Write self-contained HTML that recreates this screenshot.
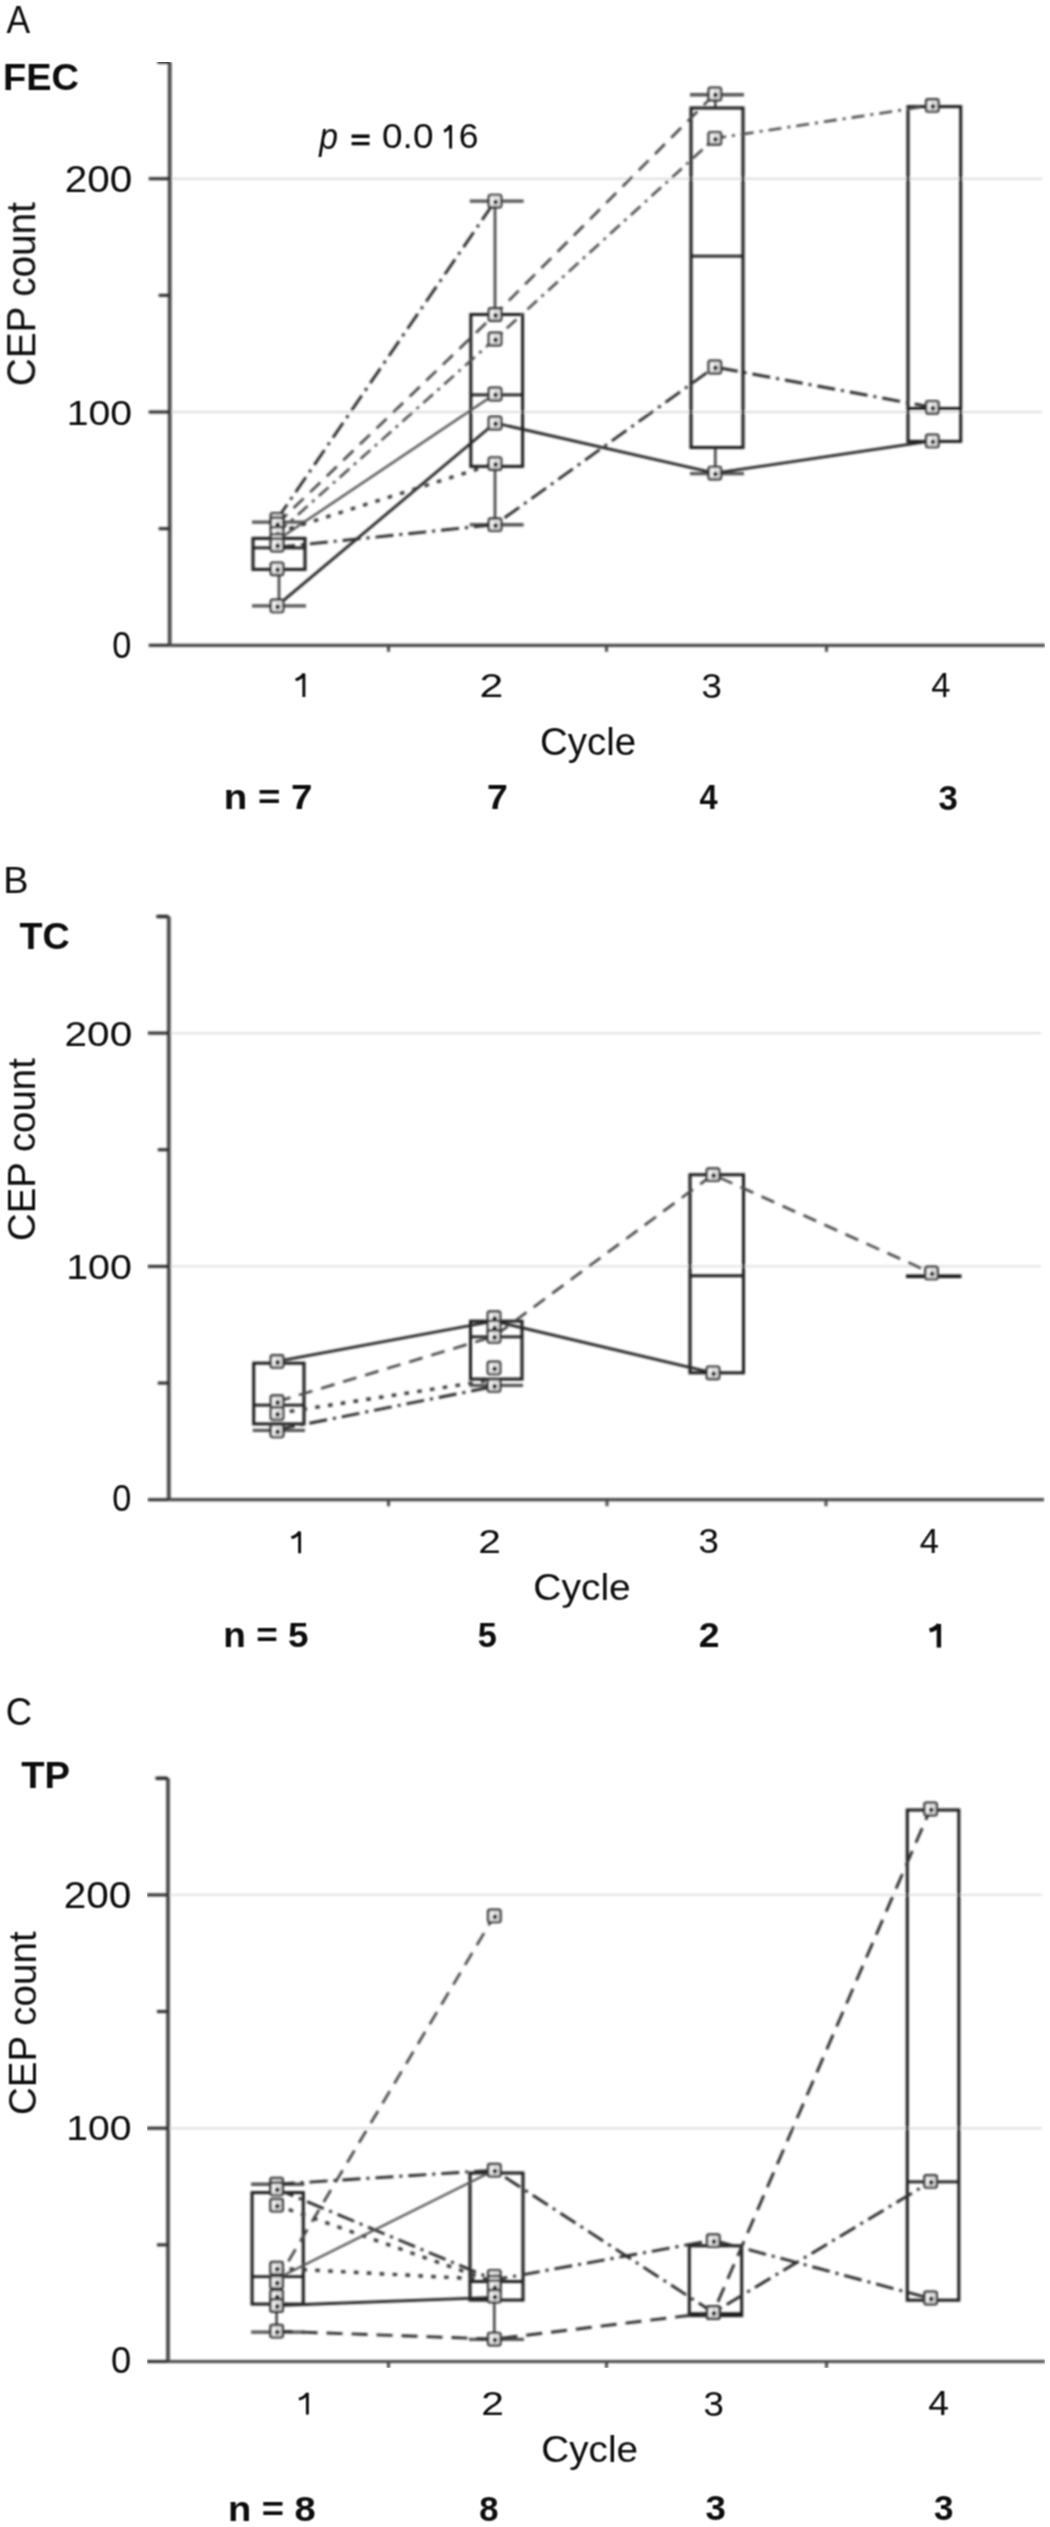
<!DOCTYPE html>
<html><head><meta charset="utf-8"><style>
html,body{margin:0;padding:0;background:#fff;overflow:hidden;}
svg{display:block;}
text{font-family:"Liberation Sans",sans-serif;}
.t{}
</style></head><body>
<svg width="1050" height="2527" viewBox="0 0 1050 2527">
<defs><filter id="bl" x="0" y="0" width="1" height="1"><feGaussianBlur stdDeviation="0.8"/></filter><filter id="bt" x="0" y="0" width="1" height="1"><feConvolveMatrix order="3" kernelMatrix="1 2 1 2 4 2 1 2 1" divisor="16" edgeMode="none"/></filter></defs>
<rect width="1050" height="2527" fill="#fff"/>
<g filter="url(#bl)">
<line x1="169.7" y1="411.99999999999994" x2="1042" y2="411.99999999999994" stroke="#dedede" stroke-width="1.9" stroke-linecap="butt"/>
<line x1="169.7" y1="178.69999999999993" x2="1042" y2="178.69999999999993" stroke="#dedede" stroke-width="1.9" stroke-linecap="butt"/>
<path d="M169.7,62.049999999999955 V645.3" fill="none" stroke="#4a4a4a" stroke-width="3.8"/>
<path d="M158.7,62.049999999999955 H168.2" fill="none" stroke="#2a2a2a" stroke-width="3.6" stroke-linecap="round"/>
<line x1="148.7" y1="645.3" x2="169.7" y2="645.3" stroke="#2a2a2a" stroke-width="3" stroke-linecap="butt"/>
<line x1="148.7" y1="411.99999999999994" x2="169.7" y2="411.99999999999994" stroke="#2a2a2a" stroke-width="3" stroke-linecap="butt"/>
<line x1="148.7" y1="178.69999999999993" x2="169.7" y2="178.69999999999993" stroke="#2a2a2a" stroke-width="3" stroke-linecap="butt"/>
<line x1="158.7" y1="528.65" x2="169.7" y2="528.65" stroke="#2a2a2a" stroke-width="3" stroke-linecap="butt"/>
<line x1="158.7" y1="295.3499999999999" x2="169.7" y2="295.3499999999999" stroke="#2a2a2a" stroke-width="3" stroke-linecap="butt"/>
<line x1="169.7" y1="645.3" x2="1045" y2="645.3" stroke="#4a4a4a" stroke-width="3.2" stroke-linecap="butt"/>
<line x1="388.5" y1="645.3" x2="388.5" y2="651.8" stroke="#4a4a4a" stroke-width="3" stroke-linecap="butt"/>
<line x1="606.5" y1="645.3" x2="606.5" y2="651.8" stroke="#4a4a4a" stroke-width="3" stroke-linecap="butt"/>
<line x1="826.5" y1="645.3" x2="826.5" y2="651.8" stroke="#4a4a4a" stroke-width="3" stroke-linecap="butt"/>
<line x1="279" y1="522.1175999999999" x2="279" y2="538.4485999999999" stroke="#444" stroke-width="2.6" stroke-linecap="butt"/>
<line x1="252" y1="522.1175999999999" x2="306" y2="522.1175999999999" stroke="#555" stroke-width="3.4" stroke-linecap="butt"/>
<line x1="279" y1="569.4775" x2="279" y2="605.8723" stroke="#444" stroke-width="2.6" stroke-linecap="butt"/>
<line x1="252" y1="605.8723" x2="306" y2="605.8723" stroke="#555" stroke-width="3.4" stroke-linecap="butt"/>
<rect x="253" y="538.4" width="52" height="31.0" fill="none" stroke="#1c1c1c" stroke-width="3.0"/>
<line x1="253" y1="547.7805999999999" x2="305" y2="547.7805999999999" stroke="#1c1c1c" stroke-width="2.8" stroke-linecap="butt"/>
<line x1="495" y1="201.09679999999992" x2="495" y2="314.4805999999999" stroke="#444" stroke-width="2.6" stroke-linecap="butt"/>
<line x1="469.8" y1="201.09679999999992" x2="523.6" y2="201.09679999999992" stroke="#555" stroke-width="3.4" stroke-linecap="butt"/>
<line x1="495" y1="466.35889999999995" x2="495" y2="524.6839" stroke="#444" stroke-width="2.6" stroke-linecap="butt"/>
<line x1="469.8" y1="524.6839" x2="523.6" y2="524.6839" stroke="#555" stroke-width="3.4" stroke-linecap="butt"/>
<rect x="470.8" y="314.5" width="51.80000000000001" height="151.9" fill="none" stroke="#1c1c1c" stroke-width="3.0"/>
<line x1="470.8" y1="394.9690999999999" x2="522.6" y2="394.9690999999999" stroke="#1c1c1c" stroke-width="2.8" stroke-linecap="butt"/>
<line x1="715.3" y1="94.71199999999988" x2="715.3" y2="108.01009999999985" stroke="#444" stroke-width="2.6" stroke-linecap="butt"/>
<line x1="690" y1="94.71199999999988" x2="744" y2="94.71199999999988" stroke="#555" stroke-width="3.4" stroke-linecap="butt"/>
<line x1="715.3" y1="447.4616" x2="715.3" y2="473.59119999999996" stroke="#444" stroke-width="2.6" stroke-linecap="butt"/>
<line x1="690" y1="473.59119999999996" x2="744" y2="473.59119999999996" stroke="#555" stroke-width="3.4" stroke-linecap="butt"/>
<rect x="691" y="108.0" width="52" height="339.5" fill="none" stroke="#1c1c1c" stroke-width="3.0"/>
<line x1="691" y1="256.1555999999999" x2="743" y2="256.1555999999999" stroke="#1c1c1c" stroke-width="2.8" stroke-linecap="butt"/>
<rect x="908" y="106.6" width="52.700000000000045" height="334.8" fill="none" stroke="#1c1c1c" stroke-width="3.0"/>
<line x1="908" y1="408.50049999999993" x2="960.7" y2="408.50049999999993" stroke="#1c1c1c" stroke-width="2.8" stroke-linecap="butt"/>
<polyline points="277.0,605.9 495.0,423.0 714.8,473.1 932.3,440.9" fill="none" stroke="#262626" stroke-width="2.8"/>
<polyline points="277.0,540.3 495.0,394.0" fill="none" stroke="#555" stroke-width="2.4"/>
<polyline points="277.0,519.3 495.0,201.1" fill="none" stroke="#2e2e2e" stroke-width="2.9" stroke-dasharray="18 6 3 6"/>
<polyline points="277.0,524.0 495.0,314.5 714.8,94.0" fill="none" stroke="#4a4a4a" stroke-width="2.7" stroke-dasharray="14 9"/>
<polyline points="277.0,533.3 495.0,339.0 714.8,138.3 932.3,105.4" fill="none" stroke="#4e4e4e" stroke-width="2.6" stroke-dasharray="13 6 3 6"/>
<polyline points="277.0,532.6 495.0,463.6" fill="none" stroke="#3a3a3a" stroke-width="3.4" stroke-dasharray="4.6 8.3"/>
<polyline points="277.0,547.3 495.0,524.7 714.8,367.0 932.3,407.3" fill="none" stroke="#2e2e2e" stroke-width="2.9" stroke-dasharray="18 6 3 6"/>
<rect x="270.8" y="513.1" width="12.4" height="12.4" rx="1.8" fill="#e2e2e2" stroke="#353535" stroke-width="2.4"/>
<rect x="273.2" y="515.7" width="2.6" height="6.5" fill="#fafafa"/>
<circle cx="277.6" cy="520.3" r="2.4" fill="#111"/>
<rect x="270.8" y="517.8" width="12.4" height="12.4" rx="1.8" fill="#e2e2e2" stroke="#353535" stroke-width="2.4"/>
<rect x="273.2" y="520.4" width="2.6" height="6.5" fill="#fafafa"/>
<circle cx="277.6" cy="525.0" r="2.4" fill="#111"/>
<rect x="270.8" y="527.1" width="12.4" height="12.4" rx="1.8" fill="#e2e2e2" stroke="#353535" stroke-width="2.4"/>
<rect x="273.2" y="529.7" width="2.6" height="6.5" fill="#fafafa"/>
<circle cx="277.6" cy="534.3" r="2.4" fill="#111"/>
<rect x="270.8" y="534.1" width="12.4" height="12.4" rx="1.8" fill="#e2e2e2" stroke="#353535" stroke-width="2.4"/>
<rect x="273.2" y="536.7" width="2.6" height="6.5" fill="#fafafa"/>
<circle cx="277.6" cy="541.3" r="2.4" fill="#111"/>
<rect x="270.8" y="538.8" width="12.4" height="12.4" rx="1.8" fill="#e2e2e2" stroke="#353535" stroke-width="2.4"/>
<rect x="273.2" y="541.4" width="2.6" height="6.5" fill="#fafafa"/>
<circle cx="277.6" cy="546.0" r="2.4" fill="#111"/>
<rect x="270.8" y="562.6" width="12.4" height="12.4" rx="1.8" fill="#e2e2e2" stroke="#353535" stroke-width="2.4"/>
<rect x="273.2" y="565.2" width="2.6" height="6.5" fill="#fafafa"/>
<circle cx="277.6" cy="569.8" r="2.4" fill="#111"/>
<rect x="270.8" y="599.7" width="12.4" height="12.4" rx="1.8" fill="#e2e2e2" stroke="#353535" stroke-width="2.4"/>
<rect x="273.2" y="602.3" width="2.6" height="6.5" fill="#fafafa"/>
<circle cx="277.6" cy="606.9" r="2.4" fill="#111"/>
<rect x="488.8" y="194.9" width="12.4" height="12.4" rx="1.8" fill="#e2e2e2" stroke="#353535" stroke-width="2.4"/>
<rect x="491.2" y="197.5" width="2.6" height="6.5" fill="#fafafa"/>
<circle cx="495.6" cy="202.1" r="2.4" fill="#111"/>
<rect x="488.8" y="308.3" width="12.4" height="12.4" rx="1.8" fill="#e2e2e2" stroke="#353535" stroke-width="2.4"/>
<rect x="491.2" y="310.9" width="2.6" height="6.5" fill="#fafafa"/>
<circle cx="495.6" cy="315.5" r="2.4" fill="#111"/>
<rect x="488.8" y="332.8" width="12.4" height="12.4" rx="1.8" fill="#e2e2e2" stroke="#353535" stroke-width="2.4"/>
<rect x="491.2" y="335.4" width="2.6" height="6.5" fill="#fafafa"/>
<circle cx="495.6" cy="340.0" r="2.4" fill="#111"/>
<rect x="488.8" y="387.8" width="12.4" height="12.4" rx="1.8" fill="#e2e2e2" stroke="#353535" stroke-width="2.4"/>
<rect x="491.2" y="390.4" width="2.6" height="6.5" fill="#fafafa"/>
<circle cx="495.6" cy="395.0" r="2.4" fill="#111"/>
<rect x="488.8" y="416.8" width="12.4" height="12.4" rx="1.8" fill="#e2e2e2" stroke="#353535" stroke-width="2.4"/>
<rect x="491.2" y="419.4" width="2.6" height="6.5" fill="#fafafa"/>
<circle cx="495.6" cy="424.0" r="2.4" fill="#111"/>
<rect x="488.8" y="457.4" width="12.4" height="12.4" rx="1.8" fill="#e2e2e2" stroke="#353535" stroke-width="2.4"/>
<rect x="491.2" y="460.0" width="2.6" height="6.5" fill="#fafafa"/>
<circle cx="495.6" cy="464.6" r="2.4" fill="#111"/>
<rect x="488.8" y="518.5" width="12.4" height="12.4" rx="1.8" fill="#e2e2e2" stroke="#353535" stroke-width="2.4"/>
<rect x="491.2" y="521.1" width="2.6" height="6.5" fill="#fafafa"/>
<circle cx="495.6" cy="525.7" r="2.4" fill="#111"/>
<rect x="708.6" y="87.8" width="12.4" height="12.4" rx="1.8" fill="#e2e2e2" stroke="#353535" stroke-width="2.4"/>
<rect x="711.0" y="90.4" width="2.6" height="6.5" fill="#fafafa"/>
<circle cx="715.4" cy="95.0" r="2.4" fill="#111"/>
<rect x="708.6" y="132.1" width="12.4" height="12.4" rx="1.8" fill="#e2e2e2" stroke="#353535" stroke-width="2.4"/>
<rect x="711.0" y="134.7" width="2.6" height="6.5" fill="#fafafa"/>
<circle cx="715.4" cy="139.3" r="2.4" fill="#111"/>
<rect x="708.6" y="360.8" width="12.4" height="12.4" rx="1.8" fill="#e2e2e2" stroke="#353535" stroke-width="2.4"/>
<rect x="711.0" y="363.4" width="2.6" height="6.5" fill="#fafafa"/>
<circle cx="715.4" cy="368.0" r="2.4" fill="#111"/>
<rect x="708.6" y="466.9" width="12.4" height="12.4" rx="1.8" fill="#e2e2e2" stroke="#353535" stroke-width="2.4"/>
<rect x="711.0" y="469.5" width="2.6" height="6.5" fill="#fafafa"/>
<circle cx="715.4" cy="474.1" r="2.4" fill="#111"/>
<rect x="926.1" y="99.2" width="12.4" height="12.4" rx="1.8" fill="#e2e2e2" stroke="#353535" stroke-width="2.4"/>
<rect x="928.5" y="101.8" width="2.6" height="6.5" fill="#fafafa"/>
<circle cx="932.9" cy="106.4" r="2.4" fill="#111"/>
<rect x="926.1" y="401.1" width="12.4" height="12.4" rx="1.8" fill="#e2e2e2" stroke="#353535" stroke-width="2.4"/>
<rect x="928.5" y="403.7" width="2.6" height="6.5" fill="#fafafa"/>
<circle cx="932.9" cy="408.3" r="2.4" fill="#111"/>
<rect x="926.1" y="434.7" width="12.4" height="12.4" rx="1.8" fill="#e2e2e2" stroke="#353535" stroke-width="2.4"/>
<rect x="928.5" y="437.3" width="2.6" height="6.5" fill="#fafafa"/>
<circle cx="932.9" cy="441.9" r="2.4" fill="#111"/>
<line x1="168.8" y1="1266.4" x2="1041" y2="1266.4" stroke="#dedede" stroke-width="1.9" stroke-linecap="butt"/>
<line x1="168.8" y1="1033.1" x2="1041" y2="1033.1" stroke="#dedede" stroke-width="1.9" stroke-linecap="butt"/>
<path d="M168.8,916.45 V1499.7" fill="none" stroke="#4a4a4a" stroke-width="3.8"/>
<path d="M157.8,916.45 H167.3" fill="none" stroke="#2a2a2a" stroke-width="3.6" stroke-linecap="round"/>
<line x1="147.8" y1="1499.7" x2="168.8" y2="1499.7" stroke="#2a2a2a" stroke-width="3" stroke-linecap="butt"/>
<line x1="147.8" y1="1266.4" x2="168.8" y2="1266.4" stroke="#2a2a2a" stroke-width="3" stroke-linecap="butt"/>
<line x1="147.8" y1="1033.1" x2="168.8" y2="1033.1" stroke="#2a2a2a" stroke-width="3" stroke-linecap="butt"/>
<line x1="157.8" y1="1383.05" x2="168.8" y2="1383.05" stroke="#2a2a2a" stroke-width="3" stroke-linecap="butt"/>
<line x1="157.8" y1="1149.75" x2="168.8" y2="1149.75" stroke="#2a2a2a" stroke-width="3" stroke-linecap="butt"/>
<line x1="168.8" y1="1499.7" x2="1044" y2="1499.7" stroke="#4a4a4a" stroke-width="3.2" stroke-linecap="butt"/>
<line x1="388.5" y1="1499.7" x2="388.5" y2="1506.2" stroke="#4a4a4a" stroke-width="3" stroke-linecap="butt"/>
<line x1="607" y1="1499.7" x2="607" y2="1506.2" stroke="#4a4a4a" stroke-width="3" stroke-linecap="butt"/>
<line x1="826" y1="1499.7" x2="826" y2="1506.2" stroke="#4a4a4a" stroke-width="3" stroke-linecap="butt"/>
<line x1="277.3" y1="1423.8775" x2="277.3" y2="1430.4099" stroke="#444" stroke-width="2.6" stroke-linecap="butt"/>
<line x1="252.7" y1="1430.4099" x2="305" y2="1430.4099" stroke="#555" stroke-width="3.4" stroke-linecap="butt"/>
<rect x="253.7" y="1363.2" width="50.30000000000001" height="60.7" fill="none" stroke="#1c1c1c" stroke-width="3.0"/>
<line x1="253.7" y1="1405.2135" x2="304" y2="1405.2135" stroke="#1c1c1c" stroke-width="2.8" stroke-linecap="butt"/>
<line x1="494" y1="1379.0839" x2="494" y2="1385.383" stroke="#444" stroke-width="2.6" stroke-linecap="butt"/>
<line x1="469.5" y1="1385.383" x2="523" y2="1385.383" stroke="#555" stroke-width="3.4" stroke-linecap="butt"/>
<rect x="470.5" y="1321.2" width="51.5" height="57.9" fill="none" stroke="#1c1c1c" stroke-width="3.0"/>
<line x1="470.5" y1="1336.8566" x2="522" y2="1336.8566" stroke="#1c1c1c" stroke-width="2.8" stroke-linecap="butt"/>
<rect x="690" y="1174.7" width="53.5" height="198.1" fill="none" stroke="#1c1c1c" stroke-width="3.0"/>
<line x1="690" y1="1275.732" x2="743.5" y2="1275.732" stroke="#1c1c1c" stroke-width="2.8" stroke-linecap="butt"/>
<line x1="906" y1="1276.1986" x2="961.5" y2="1276.1986" stroke="#111" stroke-width="3.6" stroke-linecap="butt"/>
<polyline points="277.0,1401.7 494.0,1336.4 713.0,1174.7 931.5,1272.9" fill="none" stroke="#4a4a4a" stroke-width="2.7" stroke-dasharray="14 9"/>
<polyline points="277.0,1361.4 494.0,1321.2 713.0,1372.8" fill="none" stroke="#262626" stroke-width="2.8"/>
<polyline points="277.0,1413.4 494.0,1379.6" fill="none" stroke="#3a3a3a" stroke-width="3.4" stroke-dasharray="4.6 8.3"/>
<polyline points="277.0,1429.7 494.0,1386.5" fill="none" stroke="#2e2e2e" stroke-width="2.9" stroke-dasharray="18 6 3 6"/>
<rect x="270.8" y="1355.2" width="12.4" height="12.4" rx="1.8" fill="#e2e2e2" stroke="#353535" stroke-width="2.4"/>
<rect x="273.2" y="1357.8" width="2.6" height="6.5" fill="#fafafa"/>
<circle cx="277.6" cy="1362.4" r="2.4" fill="#111"/>
<rect x="270.8" y="1395.5" width="12.4" height="12.4" rx="1.8" fill="#e2e2e2" stroke="#353535" stroke-width="2.4"/>
<rect x="273.2" y="1398.1" width="2.6" height="6.5" fill="#fafafa"/>
<circle cx="277.6" cy="1402.7" r="2.4" fill="#111"/>
<rect x="270.8" y="1407.2" width="12.4" height="12.4" rx="1.8" fill="#e2e2e2" stroke="#353535" stroke-width="2.4"/>
<rect x="273.2" y="1409.8" width="2.6" height="6.5" fill="#fafafa"/>
<circle cx="277.6" cy="1414.4" r="2.4" fill="#111"/>
<rect x="270.8" y="1423.5" width="12.4" height="12.4" rx="1.8" fill="#e2e2e2" stroke="#353535" stroke-width="2.4"/>
<rect x="273.2" y="1426.1" width="2.6" height="6.5" fill="#fafafa"/>
<circle cx="277.6" cy="1430.7" r="2.4" fill="#111"/>
<rect x="270.8" y="1424.7" width="12.4" height="12.4" rx="1.8" fill="#e2e2e2" stroke="#353535" stroke-width="2.4"/>
<rect x="273.2" y="1427.3" width="2.6" height="6.5" fill="#fafafa"/>
<circle cx="277.6" cy="1431.9" r="2.4" fill="#111"/>
<rect x="487.8" y="1311.5" width="12.4" height="12.4" rx="1.8" fill="#e2e2e2" stroke="#353535" stroke-width="2.4"/>
<rect x="490.2" y="1314.1" width="2.6" height="6.5" fill="#fafafa"/>
<circle cx="494.6" cy="1318.7" r="2.4" fill="#111"/>
<rect x="487.8" y="1320.9" width="12.4" height="12.4" rx="1.8" fill="#e2e2e2" stroke="#353535" stroke-width="2.4"/>
<rect x="490.2" y="1323.5" width="2.6" height="6.5" fill="#fafafa"/>
<circle cx="494.6" cy="1328.1" r="2.4" fill="#111"/>
<rect x="487.8" y="1330.2" width="12.4" height="12.4" rx="1.8" fill="#e2e2e2" stroke="#353535" stroke-width="2.4"/>
<rect x="490.2" y="1332.8" width="2.6" height="6.5" fill="#fafafa"/>
<circle cx="494.6" cy="1337.4" r="2.4" fill="#111"/>
<rect x="487.8" y="1361.7" width="12.4" height="12.4" rx="1.8" fill="#e2e2e2" stroke="#353535" stroke-width="2.4"/>
<rect x="490.2" y="1364.3" width="2.6" height="6.5" fill="#fafafa"/>
<circle cx="494.6" cy="1368.9" r="2.4" fill="#111"/>
<rect x="487.8" y="1379.2" width="12.4" height="12.4" rx="1.8" fill="#e2e2e2" stroke="#353535" stroke-width="2.4"/>
<rect x="490.2" y="1381.8" width="2.6" height="6.5" fill="#fafafa"/>
<circle cx="494.6" cy="1386.4" r="2.4" fill="#111"/>
<rect x="706.8" y="1168.5" width="12.4" height="12.4" rx="1.8" fill="#e2e2e2" stroke="#353535" stroke-width="2.4"/>
<rect x="709.2" y="1171.1" width="2.6" height="6.5" fill="#fafafa"/>
<circle cx="713.6" cy="1175.7" r="2.4" fill="#111"/>
<rect x="706.8" y="1366.6" width="12.4" height="12.4" rx="1.8" fill="#e2e2e2" stroke="#353535" stroke-width="2.4"/>
<rect x="709.2" y="1369.2" width="2.6" height="6.5" fill="#fafafa"/>
<circle cx="713.6" cy="1373.8" r="2.4" fill="#111"/>
<rect x="925.3" y="1266.7" width="12.4" height="12.4" rx="1.8" fill="#e2e2e2" stroke="#353535" stroke-width="2.4"/>
<rect x="927.7" y="1269.3" width="2.6" height="6.5" fill="#fafafa"/>
<circle cx="932.1" cy="1273.9" r="2.4" fill="#111"/>
<line x1="168" y1="2128.2" x2="1042" y2="2128.2" stroke="#dedede" stroke-width="1.9" stroke-linecap="butt"/>
<line x1="168" y1="1894.9" x2="1042" y2="1894.9" stroke="#dedede" stroke-width="1.9" stroke-linecap="butt"/>
<path d="M168,1778.25 V2361.5" fill="none" stroke="#4a4a4a" stroke-width="3.8"/>
<path d="M157,1778.25 H166.5" fill="none" stroke="#2a2a2a" stroke-width="3.6" stroke-linecap="round"/>
<line x1="147" y1="2361.5" x2="168" y2="2361.5" stroke="#2a2a2a" stroke-width="3" stroke-linecap="butt"/>
<line x1="147" y1="2128.2" x2="168" y2="2128.2" stroke="#2a2a2a" stroke-width="3" stroke-linecap="butt"/>
<line x1="147" y1="1894.9" x2="168" y2="1894.9" stroke="#2a2a2a" stroke-width="3" stroke-linecap="butt"/>
<line x1="157" y1="2244.85" x2="168" y2="2244.85" stroke="#2a2a2a" stroke-width="3" stroke-linecap="butt"/>
<line x1="157" y1="2011.55" x2="168" y2="2011.55" stroke="#2a2a2a" stroke-width="3" stroke-linecap="butt"/>
<line x1="168" y1="2361.5" x2="1045" y2="2361.5" stroke="#4a4a4a" stroke-width="3.2" stroke-linecap="butt"/>
<line x1="388.5" y1="2361.5" x2="388.5" y2="2368.0" stroke="#4a4a4a" stroke-width="3" stroke-linecap="butt"/>
<line x1="606.5" y1="2361.5" x2="606.5" y2="2368.0" stroke="#4a4a4a" stroke-width="3" stroke-linecap="butt"/>
<line x1="826.5" y1="2361.5" x2="826.5" y2="2368.0" stroke="#4a4a4a" stroke-width="3" stroke-linecap="butt"/>
<line x1="276.6" y1="2184.192" x2="276.6" y2="2192.5908" stroke="#444" stroke-width="2.6" stroke-linecap="butt"/>
<line x1="251.1" y1="2184.192" x2="304.3" y2="2184.192" stroke="#555" stroke-width="3.4" stroke-linecap="butt"/>
<line x1="276.6" y1="2304.1082" x2="276.6" y2="2332.1042" stroke="#444" stroke-width="2.6" stroke-linecap="butt"/>
<line x1="251.1" y1="2332.1042" x2="304.3" y2="2332.1042" stroke="#555" stroke-width="3.4" stroke-linecap="butt"/>
<rect x="252.1" y="2192.6" width="51.20000000000002" height="111.5" fill="none" stroke="#1c1c1c" stroke-width="3.0"/>
<line x1="252.1" y1="2276.5788000000002" x2="303.3" y2="2276.5788000000002" stroke="#1c1c1c" stroke-width="2.8" stroke-linecap="butt"/>
<line x1="494.3" y1="2300.1421" x2="494.3" y2="2339.3365" stroke="#444" stroke-width="2.6" stroke-linecap="butt"/>
<line x1="469" y1="2339.3365" x2="524" y2="2339.3365" stroke="#555" stroke-width="3.4" stroke-linecap="butt"/>
<rect x="470" y="2173.0" width="53" height="127.1" fill="none" stroke="#1c1c1c" stroke-width="3.0"/>
<line x1="470" y1="2281.4781" x2="523" y2="2281.4781" stroke="#1c1c1c" stroke-width="2.8" stroke-linecap="butt"/>
<rect x="689.3" y="2245.8" width="52.40000000000009" height="69.8" fill="none" stroke="#1c1c1c" stroke-width="3.0"/>
<line x1="689.3" y1="2313.6735" x2="741.7" y2="2313.6735" stroke="#1c1c1c" stroke-width="2.8" stroke-linecap="butt"/>
<rect x="907.3" y="1810.0" width="51.5" height="490.2" fill="none" stroke="#1c1c1c" stroke-width="3.0"/>
<line x1="907.3" y1="2181.859" x2="958.8" y2="2181.859" stroke="#1c1c1c" stroke-width="2.8" stroke-linecap="butt"/>
<polyline points="276.6,2281.0 494.3,1915.9" fill="none" stroke="#4a4a4a" stroke-width="2.7" stroke-dasharray="14 9"/>
<polyline points="276.6,2184.2 494.3,2170.2 713.3,2312.5 930.6,2181.9" fill="none" stroke="#2e2e2e" stroke-width="2.9" stroke-dasharray="18 6 3 6"/>
<polyline points="276.6,2188.9 494.3,2279.8 713.3,2240.2 930.6,2298.5" fill="none" stroke="#2e2e2e" stroke-width="2.9" stroke-dasharray="18 6 3 6"/>
<polyline points="276.6,2205.2 494.3,2282.2" fill="none" stroke="#3a3a3a" stroke-width="3.4" stroke-dasharray="4.6 8.3"/>
<polyline points="276.6,2278.7 494.3,2170.2" fill="none" stroke="#555" stroke-width="2.4"/>
<polyline points="276.6,2268.2 494.3,2279.8" fill="none" stroke="#3a3a3a" stroke-width="3.4" stroke-dasharray="4.6 8.3"/>
<polyline points="276.6,2305.5 494.3,2297.3" fill="none" stroke="#262626" stroke-width="2.8"/>
<polyline points="276.6,2331.2 494.3,2339.1 713.3,2312.5 930.6,1808.6" fill="none" stroke="#333" stroke-width="2.9" stroke-dasharray="16 9"/>
<rect x="270.4" y="2178.0" width="12.4" height="12.4" rx="1.8" fill="#e2e2e2" stroke="#353535" stroke-width="2.4"/>
<rect x="272.8" y="2180.6" width="2.6" height="6.5" fill="#fafafa"/>
<circle cx="277.2" cy="2185.2" r="2.4" fill="#111"/>
<rect x="270.4" y="2182.7" width="12.4" height="12.4" rx="1.8" fill="#e2e2e2" stroke="#353535" stroke-width="2.4"/>
<rect x="272.8" y="2185.3" width="2.6" height="6.5" fill="#fafafa"/>
<circle cx="277.2" cy="2189.9" r="2.4" fill="#111"/>
<rect x="270.4" y="2199.0" width="12.4" height="12.4" rx="1.8" fill="#e2e2e2" stroke="#353535" stroke-width="2.4"/>
<rect x="272.8" y="2201.6" width="2.6" height="6.5" fill="#fafafa"/>
<circle cx="277.2" cy="2206.2" r="2.4" fill="#111"/>
<rect x="270.4" y="2262.0" width="12.4" height="12.4" rx="1.8" fill="#e2e2e2" stroke="#353535" stroke-width="2.4"/>
<rect x="272.8" y="2264.6" width="2.6" height="6.5" fill="#fafafa"/>
<circle cx="277.2" cy="2269.2" r="2.4" fill="#111"/>
<rect x="270.4" y="2276.0" width="12.4" height="12.4" rx="1.8" fill="#e2e2e2" stroke="#353535" stroke-width="2.4"/>
<rect x="272.8" y="2278.6" width="2.6" height="6.5" fill="#fafafa"/>
<circle cx="277.2" cy="2283.2" r="2.4" fill="#111"/>
<rect x="270.4" y="2290.0" width="12.4" height="12.4" rx="1.8" fill="#e2e2e2" stroke="#353535" stroke-width="2.4"/>
<rect x="272.8" y="2292.6" width="2.6" height="6.5" fill="#fafafa"/>
<circle cx="277.2" cy="2297.2" r="2.4" fill="#111"/>
<rect x="270.4" y="2299.3" width="12.4" height="12.4" rx="1.8" fill="#e2e2e2" stroke="#353535" stroke-width="2.4"/>
<rect x="272.8" y="2301.9" width="2.6" height="6.5" fill="#fafafa"/>
<circle cx="277.2" cy="2306.5" r="2.4" fill="#111"/>
<rect x="270.4" y="2325.0" width="12.4" height="12.4" rx="1.8" fill="#e2e2e2" stroke="#353535" stroke-width="2.4"/>
<rect x="272.8" y="2327.6" width="2.6" height="6.5" fill="#fafafa"/>
<circle cx="277.2" cy="2332.2" r="2.4" fill="#111"/>
<rect x="488.1" y="1909.7" width="12.4" height="12.4" rx="1.8" fill="#e2e2e2" stroke="#353535" stroke-width="2.4"/>
<rect x="490.5" y="1912.3" width="2.6" height="6.5" fill="#fafafa"/>
<circle cx="494.9" cy="1916.9" r="2.4" fill="#111"/>
<rect x="488.1" y="2164.0" width="12.4" height="12.4" rx="1.8" fill="#e2e2e2" stroke="#353535" stroke-width="2.4"/>
<rect x="490.5" y="2166.6" width="2.6" height="6.5" fill="#fafafa"/>
<circle cx="494.9" cy="2171.2" r="2.4" fill="#111"/>
<rect x="488.1" y="2270.1" width="12.4" height="12.4" rx="1.8" fill="#e2e2e2" stroke="#353535" stroke-width="2.4"/>
<rect x="490.5" y="2272.7" width="2.6" height="6.5" fill="#fafafa"/>
<circle cx="494.9" cy="2277.3" r="2.4" fill="#111"/>
<rect x="488.1" y="2276.0" width="12.4" height="12.4" rx="1.8" fill="#e2e2e2" stroke="#353535" stroke-width="2.4"/>
<rect x="490.5" y="2278.6" width="2.6" height="6.5" fill="#fafafa"/>
<circle cx="494.9" cy="2283.2" r="2.4" fill="#111"/>
<rect x="488.1" y="2280.6" width="12.4" height="12.4" rx="1.8" fill="#e2e2e2" stroke="#353535" stroke-width="2.4"/>
<rect x="490.5" y="2283.2" width="2.6" height="6.5" fill="#fafafa"/>
<circle cx="494.9" cy="2287.8" r="2.4" fill="#111"/>
<rect x="488.1" y="2290.0" width="12.4" height="12.4" rx="1.8" fill="#e2e2e2" stroke="#353535" stroke-width="2.4"/>
<rect x="490.5" y="2292.6" width="2.6" height="6.5" fill="#fafafa"/>
<circle cx="494.9" cy="2297.2" r="2.4" fill="#111"/>
<rect x="488.1" y="2332.9" width="12.4" height="12.4" rx="1.8" fill="#e2e2e2" stroke="#353535" stroke-width="2.4"/>
<rect x="490.5" y="2335.5" width="2.6" height="6.5" fill="#fafafa"/>
<circle cx="494.9" cy="2340.1" r="2.4" fill="#111"/>
<rect x="707.1" y="2234.5" width="12.4" height="12.4" rx="1.8" fill="#e2e2e2" stroke="#353535" stroke-width="2.4"/>
<rect x="709.5" y="2237.1" width="2.6" height="6.5" fill="#fafafa"/>
<circle cx="713.9" cy="2241.7" r="2.4" fill="#111"/>
<rect x="707.1" y="2306.3" width="12.4" height="12.4" rx="1.8" fill="#e2e2e2" stroke="#353535" stroke-width="2.4"/>
<rect x="709.5" y="2308.9" width="2.6" height="6.5" fill="#fafafa"/>
<circle cx="713.9" cy="2313.5" r="2.4" fill="#111"/>
<rect x="707.1" y="2306.3" width="12.4" height="12.4" rx="1.8" fill="#e2e2e2" stroke="#353535" stroke-width="2.4"/>
<rect x="709.5" y="2308.9" width="2.6" height="6.5" fill="#fafafa"/>
<circle cx="713.9" cy="2313.5" r="2.4" fill="#111"/>
<rect x="924.4" y="1802.8" width="12.4" height="12.4" rx="1.8" fill="#e2e2e2" stroke="#353535" stroke-width="2.4"/>
<rect x="926.8" y="1805.4" width="2.6" height="6.5" fill="#fafafa"/>
<circle cx="931.2" cy="1810.0" r="2.4" fill="#111"/>
<rect x="924.4" y="2175.2" width="12.4" height="12.4" rx="1.8" fill="#e2e2e2" stroke="#353535" stroke-width="2.4"/>
<rect x="926.8" y="2177.8" width="2.6" height="6.5" fill="#fafafa"/>
<circle cx="931.2" cy="2182.4" r="2.4" fill="#111"/>
<rect x="924.4" y="2291.8" width="12.4" height="12.4" rx="1.8" fill="#e2e2e2" stroke="#353535" stroke-width="2.4"/>
<rect x="926.8" y="2294.4" width="2.6" height="6.5" fill="#fafafa"/>
<circle cx="931.2" cy="2299.0" r="2.4" fill="#111"/>
</g>
<g filter="url(#bt)">
<text class="t" transform="translate(6.53,33.00) scale(0.9031,1)" font-size="39.24" font-weight="normal" fill="#0a0a0a">A</text>
<text transform="translate(3.06,90.43) scale(1.0112,1)" font-size="37.57" font-weight="bold" fill="#0a0a0a">FEC</text>
<text class="t" transform="translate(319.14,148.86) scale(0.9274,1)" font-size="36.35" font-weight="normal" fill="#0a0a0a" font-style="italic">p</text>
<path d="M351.6,136.2 H369.5 M351.6,143.6 H369.5" stroke="#0a0a0a" stroke-width="3.4" fill="none"/>
<text class="t" transform="translate(382.06,148.36) scale(1.0683,1)" font-size="34.60" font-weight="normal" fill="#0a0a0a">0.0</text>
<path d="M450.6,148.4 V125.0 M450.6,125.3 Q448.1,129.8 444.0,131.3" fill="none" stroke="#0a0a0a" stroke-width="2.9" stroke-linecap="butt"/>
<text class="t" transform="translate(458.80,148.36) scale(1.0271,1)" font-size="34.60" font-weight="normal" fill="#0a0a0a">6</text>
<text class="t" transform="translate(64.66,192.43) scale(1.0771,1)" font-size="37.57" font-weight="normal" fill="#0a0a0a">200</text>
<text class="t" transform="translate(66.71,424.55) scale(1.1060,1)" font-size="35.45" font-weight="normal" fill="#0a0a0a">100</text>
<text class="t" transform="translate(112.16,658.34) scale(0.9201,1)" font-size="37.29" font-weight="normal" fill="#0a0a0a">0</text>
<text class="t" transform="translate(35.21,386.16) rotate(-90) scale(0.9674,1)" font-size="39.97" font-weight="normal" fill="#0a0a0a">CEP count</text>
<path d="M303.9,697.0 V673.5 M303.9,673.8 Q301.4,678.3 295.6,679.8" fill="none" stroke="#0a0a0a" stroke-width="2.9" stroke-linecap="butt"/>
<text class="t" transform="translate(479.45,697.40) scale(1.2558,1)" font-size="34.09" font-weight="normal" fill="#0a0a0a">2</text>
<text class="t" transform="translate(701.50,697.66) scale(1.0435,1)" font-size="35.17" font-weight="normal" fill="#0a0a0a">3</text>
<text class="t" transform="translate(931.21,697.10) scale(1.0066,1)" font-size="34.30" font-weight="normal" fill="#0a0a0a">4</text>
<text class="t" transform="translate(540.05,754.52) scale(1.0126,1)" font-size="37.98" font-weight="normal" fill="#0a0a0a">Cycle</text>
<text transform="translate(223.76,808.80) scale(1.0802,1)" font-size="35.61" font-weight="bold" fill="#0a0a0a">n = 7</text>
<text transform="translate(486.99,808.80) scale(1.0533,1)" font-size="35.61" font-weight="bold" fill="#0a0a0a">7</text>
<text transform="translate(699.51,809.40) scale(0.9122,1)" font-size="35.61" font-weight="bold" fill="#0a0a0a">4</text>
<text transform="translate(938.40,809.91) scale(1.0079,1)" font-size="34.53" font-weight="bold" fill="#0a0a0a">3</text>
<text class="t" transform="translate(3.19,893.00) scale(1.0043,1)" font-size="37.79" font-weight="normal" fill="#0a0a0a">B</text>
<text transform="translate(19.48,949.04) scale(1.0306,1)" font-size="36.58" font-weight="bold" fill="#0a0a0a">TC</text>
<text class="t" transform="translate(64.56,1045.95) scale(1.1297,1)" font-size="35.88" font-weight="normal" fill="#0a0a0a">200</text>
<text class="t" transform="translate(66.20,1279.05) scale(1.0983,1)" font-size="35.88" font-weight="normal" fill="#0a0a0a">100</text>
<text class="t" transform="translate(112.16,1510.94) scale(0.9378,1)" font-size="36.58" font-weight="normal" fill="#0a0a0a">0</text>
<text class="t" transform="translate(35.03,1241.05) rotate(-90) scale(1.0036,1)" font-size="38.28" font-weight="normal" fill="#0a0a0a">CEP count</text>
<path d="M299.6,1553.2 V1531.4 M299.6,1531.7 Q297.1,1536.2 291.3,1537.7" fill="none" stroke="#0a0a0a" stroke-width="2.9" stroke-linecap="butt"/>
<text class="t" transform="translate(478.25,1553.40) scale(1.2614,1)" font-size="32.37" font-weight="normal" fill="#0a0a0a">2</text>
<text class="t" transform="translate(698.60,1553.36) scale(1.0606,1)" font-size="34.60" font-weight="normal" fill="#0a0a0a">3</text>
<text class="t" transform="translate(919.81,1553.40) scale(0.9982,1)" font-size="34.59" font-weight="normal" fill="#0a0a0a">4</text>
<text class="t" transform="translate(533.32,1599.55) scale(1.0435,1)" font-size="37.33" font-weight="normal" fill="#0a0a0a">Cycle</text>
<text transform="translate(223.37,1646.65) scale(1.0430,1)" font-size="35.40" font-weight="bold" fill="#0a0a0a">n = 5</text>
<text transform="translate(477.74,1646.65) scale(0.9709,1)" font-size="35.40" font-weight="bold" fill="#0a0a0a">5</text>
<text transform="translate(698.70,1647.40) scale(1.0923,1)" font-size="34.23" font-weight="bold" fill="#0a0a0a">2</text>
<path d="M938.9,1647.6 V1624.1 M938.9,1624.4 Q936.4,1628.9 929.6,1630.4" fill="none" stroke="#0a0a0a" stroke-width="4.4" stroke-linecap="butt"/>
<text class="t" transform="translate(5.85,1724.71) scale(0.9190,1)" font-size="39.69" font-weight="normal" fill="#0a0a0a">C</text>
<text transform="translate(21.27,1787.70) scale(1.0209,1)" font-size="37.36" font-weight="bold" fill="#0a0a0a">TP</text>
<text class="t" transform="translate(63.66,1907.94) scale(1.0911,1)" font-size="37.15" font-weight="normal" fill="#0a0a0a">200</text>
<text class="t" transform="translate(66.22,2140.05) scale(1.0936,1)" font-size="35.73" font-weight="normal" fill="#0a0a0a">100</text>
<text class="t" transform="translate(111.08,2373.34) scale(0.9912,1)" font-size="36.72" font-weight="normal" fill="#0a0a0a">0</text>
<text class="t" transform="translate(35.93,2115.06) rotate(-90) scale(1.0080,1)" font-size="38.28" font-weight="normal" fill="#0a0a0a">CEP count</text>
<path d="M307.4,2414.6 V2392.8 M307.4,2393.1 Q304.9,2397.6 298.9,2399.1" fill="none" stroke="#0a0a0a" stroke-width="2.9" stroke-linecap="butt"/>
<text class="t" transform="translate(481.35,2414.90) scale(1.2559,1)" font-size="32.51" font-weight="normal" fill="#0a0a0a">2</text>
<text class="t" transform="translate(703.50,2415.65) scale(1.0230,1)" font-size="35.88" font-weight="normal" fill="#0a0a0a">3</text>
<text class="t" transform="translate(928.34,2415.40) scale(1.0563,1)" font-size="35.32" font-weight="normal" fill="#0a0a0a">4</text>
<text class="t" transform="translate(541.33,2461.65) scale(1.0368,1)" font-size="37.33" font-weight="normal" fill="#0a0a0a">Cycle</text>
<text transform="translate(227.89,2520.76) scale(1.0921,1)" font-size="34.89" font-weight="bold" fill="#0a0a0a">n = 8</text>
<text transform="translate(479.20,2520.76) scale(0.9929,1)" font-size="34.89" font-weight="bold" fill="#0a0a0a">8</text>
<text transform="translate(705.46,2520.41) scale(1.0603,1)" font-size="34.53" font-weight="bold" fill="#0a0a0a">3</text>
<text transform="translate(934.10,2520.41) scale(1.0137,1)" font-size="34.53" font-weight="bold" fill="#0a0a0a">3</text>
</g>
</svg>
</body></html>
